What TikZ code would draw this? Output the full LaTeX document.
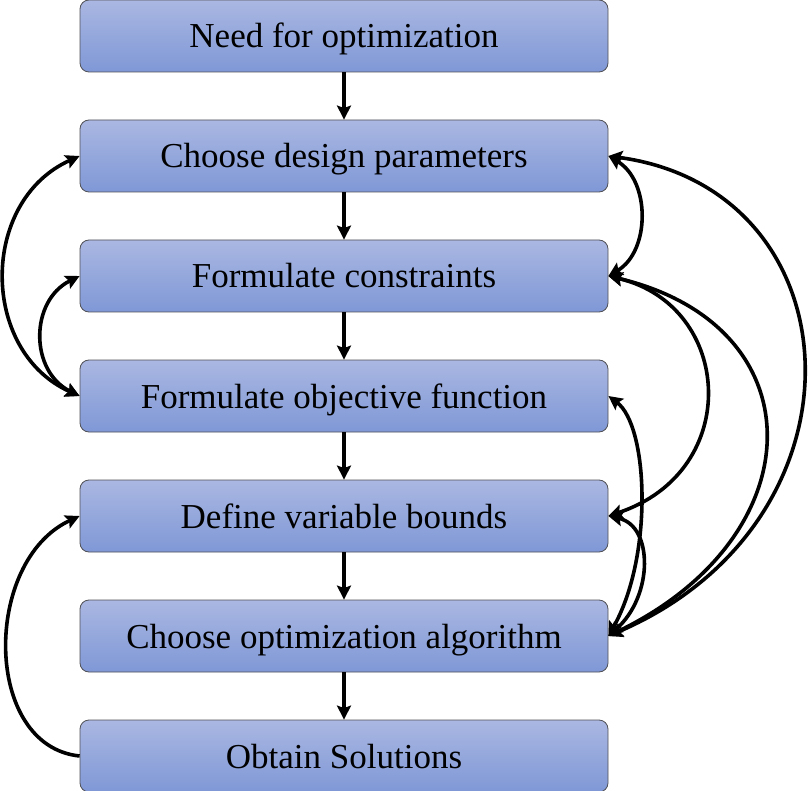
\documentclass[tikz,border=0pt]{standalone}
\usepackage{fontspec}
\setmainfont{Liberation Serif}
\usetikzlibrary{arrows.meta}
\definecolor{boxtop}{RGB}{170,183,226}
\definecolor{boxbot}{RGB}{127,152,214}
\definecolor{boxline}{RGB}{80,80,85}
\begin{document}
\begin{tikzpicture}[x=1pt,y=-1pt,
  stepbox/.style={draw=boxline, line width=0.8pt, rounded corners=9pt,
    top color=boxtop, bottom color=boxbot,
    minimum width=528pt, minimum height=72pt, inner sep=0pt,
    text height=25pt, text depth=1pt,
    font=\fontsize{35}{40}\selectfont},
  link/.style={line width=3.6pt, >={Stealth[length=14pt,width=14pt,inset=2.5pt]}}]
\useasboundingbox (0,0) rectangle (808,791);
% process steps
\node[stepbox] (b1) at (344,36)  {Need for optimization};
\node[stepbox] (b2) at (344,156) {Choose design parameters};
\node[stepbox] (b3) at (344,276) {Formulate constraints};
\node[stepbox] (b4) at (344,396) {Formulate objective function};
\node[stepbox] (b5) at (344,516) {Define variable bounds};
\node[stepbox] (b6) at (344,636) {Choose optimization algorithm};
\node[stepbox] (b7) at (344,756) {Obtain Solutions};
% main flow
\foreach \a/\b in {b1/b2,b2/b3,b3/b4,b4/b5,b5/b6,b6/b7}
  \draw[link,->] (\a.south) -- (\b.north);
% feedback loops on the left
\draw[link,<->] (b2.west) .. controls +(-100,45) and +(-100,-45) .. (b4.west);
\draw[link,<->] (b3.west) .. controls +(-50,25) and +(-50,-25) .. (b4.west);
\draw[link,->] (b7.west) .. controls +(-97,-10) and +(-97,45) .. (b5.west);
% feedback loops on the right
\draw[link,<->] (b2.east) .. controls +(42,25) and +(42,-25) .. (b3.east);
\draw[link,<->] (b2.east) .. controls +(250,34) and +(268,-115) .. (b6.east);
\draw[link,<->] (b3.east) .. controls +(125,30) and +(135,-45) .. (b5.east);
\draw[link,<->] (b3.east) .. controls +(210,50) and +(207,-100) .. (b6.east);
\draw[link,<->] (b4.east) .. controls +(40,30) and +(45,-80) .. (b6.east);
\draw[link,<->] (b5.east) .. controls +(45,10) and +(45,-40) .. (b6.east);
\end{tikzpicture}
\end{document}
